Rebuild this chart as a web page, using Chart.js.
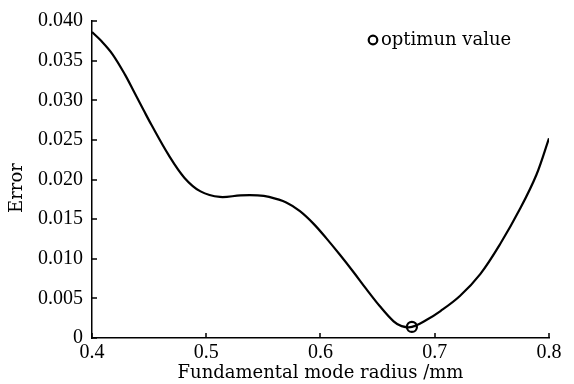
<!DOCTYPE html>
<html>
<head>
<meta charset="utf-8">
<script src="https://cdn.jsdelivr.net/npm/chart.js@4"></script>
<style>
 html,body{margin:0;padding:0;background:#fff;}
</style>
</head>
<body>
<canvas id="chart" width="574" height="384"></canvas>
<script>
/* DATA */
const radius=[0.400,0.408,0.418,0.429,0.437,0.445,0.452,0.467,0.481,0.495,0.512,0.530,0.545,0.555,0.570,0.582,0.594,0.605,0.617,0.629,0.640,0.652,0.664,0.671,0.680,0.693,0.705,0.722,0.740,0.757,0.775,0.789,0.800];
const errors=[0.0386,0.0375,0.0358,0.0332,0.0310,0.0288,0.0269,0.0231,0.0202,0.0185,0.0178,0.0180,0.0180,0.0178,0.0171,0.0160,0.0144,0.0126,0.0105,0.0083,0.0062,0.0040,0.0021,0.0015,0.0014,0.0023,0.0034,0.0053,0.0081,0.0118,0.0164,0.0206,0.0252];
const optRadius=[0.680];
const optError=[0.0014];
const xTicks=[0.4,0.5,0.6,0.7,0.8];
const yTicks=[0,0.005,0.010,0.015,0.020,0.025,0.030,0.035,0.040];
const yTitle="Error";
const legendText="optimun value";

const NUM_FONT="'Liberation Serif', serif";
const TXT_FONT="'DejaVu Serif', serif";

/* inward tick marks, y title, legend */
const extras={
 id:"extras",
 afterDraw(c){
  const ctx=c.ctx,x=c.scales.x,y=c.scales.y,a=c.chartArea;
  ctx.save();
  ctx.strokeStyle="#000";ctx.lineWidth=1.5;
  ctx.beginPath();
  xTicks.forEach(v=>{const px=Math.round(x.getPixelForValue(v));ctx.moveTo(px,a.bottom);ctx.lineTo(px,a.bottom-5);});
  yTicks.forEach(v=>{const py=Math.round(y.getPixelForValue(v));ctx.moveTo(a.left,py);ctx.lineTo(a.left+5,py);});
  ctx.stroke();
  ctx.fillStyle="#000";ctx.font="18px "+TXT_FONT;
  // y title, sits a little below the plot centre
  ctx.save();
  ctx.translate(22,188);ctx.rotate(-Math.PI/2);
  ctx.textAlign="center";ctx.textBaseline="alphabetic";
  ctx.fillText(yTitle,0,0);
  ctx.restore();
  // legend
  ctx.lineWidth=2.2;
  ctx.beginPath();ctx.arc(373,40,4.3,0,Math.PI*2);ctx.stroke();
  ctx.textBaseline="middle";
  ctx.fillText(legendText,381,40);
  ctx.restore();
 }
};

new Chart(chart,{
 type:"scatter",
 data:{datasets:[
  {data:radius.map((r,i)=>({x:r,y:errors[i]})),showLine:true,borderColor:"#000",borderWidth:2.2,pointRadius:0,tension:0.35,order:2},
  {data:optRadius.map((r,i)=>({x:r,y:optError[i]})),pointRadius:5,pointBorderWidth:2.2,pointBorderColor:"#000",pointBackgroundColor:"rgba(255,255,255,0)",order:1}
 ]},
 options:{
  responsive:false,animation:false,
  layout:{padding:{left:0,right:25,top:18,bottom:0}},
  plugins:{legend:{display:false},tooltip:{enabled:false}},
  scales:{
   x:{type:"linear",min:0.4,max:0.8,
    afterBuildTicks:s=>{s.ticks=xTicks.map(v=>({value:v}));},
    afterFit:s=>{s.height=46;},
    grid:{display:false,drawTicks:false},
    border:{color:"#000",width:1.5},
    ticks:{color:"#000",font:{family:NUM_FONT,size:20},padding:3,maxRotation:0,callback:v=>v.toFixed(1)},
    title:{display:true,text:"Fundamental mode radius /mm",color:"#000",font:{family:TXT_FONT,size:18},padding:{top:-2,bottom:0}}
   },
   y:{min:0,max:0.04,
    afterBuildTicks:s=>{s.ticks=yTicks.map(v=>({value:v}));},
    afterFit:s=>{s.width=92;},
    grid:{display:false,drawTicks:false},
    border:{color:"#000",width:1.5},
    ticks:{color:"#000",font:{family:NUM_FONT,size:20},padding:9,callback:v=>v===0?"0":v.toFixed(3)}
   }
  }
 },
 plugins:[extras]
});
</script>
</body>
</html>
